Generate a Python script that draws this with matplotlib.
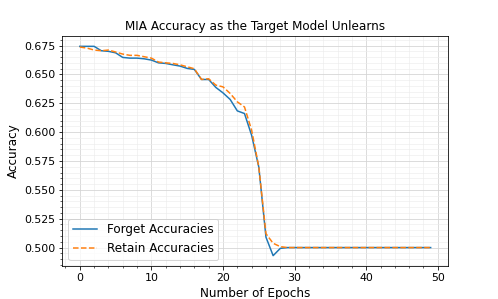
import matplotlib
matplotlib.use("Agg")
import matplotlib.pyplot as plt

# MIA accuracy per epoch
epochs = list(range(50))
forget_acc = [0.6743, 0.6743, 0.6743, 0.6705, 0.6700, 0.6687, 0.6647, 0.6641, 0.6641, 0.6635,
              0.6624, 0.6600, 0.6595, 0.6583, 0.6572, 0.6552, 0.6543, 0.6456, 0.6456, 0.6387,
              0.6340, 0.6283, 0.6184, 0.6161, 0.5972, 0.5697, 0.5090, 0.4930, 0.4993] + [0.5000] * 21
retain_acc = [0.6737, 0.6728, 0.6711, 0.6705, 0.6711, 0.6694, 0.6676, 0.6665, 0.6665, 0.6653,
              0.6641, 0.6607, 0.6600, 0.6595, 0.6583, 0.6566, 0.6549, 0.6456, 0.6462, 0.6407,
              0.6392, 0.6335, 0.6262, 0.6218, 0.6016, 0.5700, 0.5120, 0.5037, 0.5008] + [0.5000] * 21

# reference looks like a 72 dpi render
fig, ax = plt.subplots(figsize=(498 / 72, 299 / 72), dpi=72)

ax.plot(epochs, forget_acc, color="#1f77b4", label="Forget Accuracies")
ax.plot(epochs, retain_acc, color="#ff7f0e", linestyle="--", label="Retain Accuracies")

ax.set_title("MIA Accuracy as the Target Model Unlearns", fontsize=12)
ax.set_xlabel("Number of Epochs", fontsize=12)
ax.set_ylabel("Accuracy", fontsize=12)
ax.tick_params(axis="both", which="major", labelsize=11)

ax.minorticks_on()
ax.grid(which="major", color="#d4d4d4", linewidth=0.8)
ax.grid(which="minor", color="#ececec", linewidth=0.6)
ax.set_axisbelow(True)

ax.legend(loc="lower left", fontsize=12)

plt.savefig("out.png", dpi=72)
plt.close()
